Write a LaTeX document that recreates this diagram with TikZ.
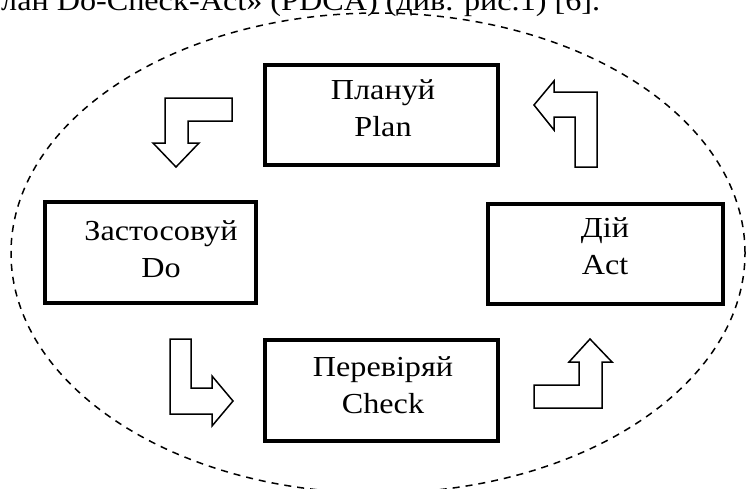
\documentclass[tikz,border=0pt]{standalone}
\usepackage{fontspec}
\setmainfont{Liberation Serif}[FakeStretch=1.11]
\begin{document}
\begin{tikzpicture}[x=1pt,y=-1pt,
  box/.style={draw, line width=4pt, inner sep=0pt, align=center,
    font=\fontsize{29}{37}\selectfont},
  harrow/.style={draw, line width=1.5pt, line join=miter, fill=white},
  oval/.style={draw, line width=1.5pt, dash pattern=on 7pt off 6pt}]
\clip (0,0) rectangle (746,488);
\node[anchor=base west, inner sep=0pt, font=\fontsize{29}{30}\selectfont] (toptext) at (1,10) {лан Do-Check-Act» (PDCA) (див. рис.1) [6].};
\draw[oval] (378,253) ellipse [x radius=367pt, y radius=240pt];
\node[box, minimum width=233pt, minimum height=100pt] (plan) at (381.5,115) {};
\node[box, minimum width=211pt, minimum height=101pt] (do) at (150.5,252.5) {};
\node[box, minimum width=235pt, minimum height=100pt] (act) at (605.5,254) {};
\node[box, minimum width=233pt, minimum height=101pt] (check) at (381.5,390.5) {};
\node[box, draw=none, anchor=base] (plant) at (383,136) {Плануй\\Plan};
\node[box, draw=none, anchor=base] (dot) at (161,277) {Застосовуй\\Do};
\node[box, draw=none, anchor=base] (actt) at (605,274) {Дій\\Act};
\node[box, draw=none, anchor=base] (checkt) at (383,413) {Перевіряй\\Check};
% turn arrows
\draw[harrow] (165,98) -- (232,98) -- (232,121) -- (188,121) -- (188,143) -- (199,143) -- (176,167) -- (153,143) -- (165,143) -- cycle;
\draw[harrow] (534,105) -- (554,81) -- (554,92) -- (597,92) -- (597,167) -- (575,167) -- (575,117) -- (554,117) -- (554,130) -- cycle;
\draw[harrow] (170,339) -- (191,339) -- (191,388) -- (212,388) -- (212,376) -- (233,401) -- (212,426) -- (212,414) -- (170,414) -- cycle;
\draw[harrow] (534,385) -- (579,385) -- (579,362) -- (569,362) -- (590,339) -- (612,362) -- (602,362) -- (602,408) -- (534,408) -- cycle;
\end{tikzpicture}
\end{document}
